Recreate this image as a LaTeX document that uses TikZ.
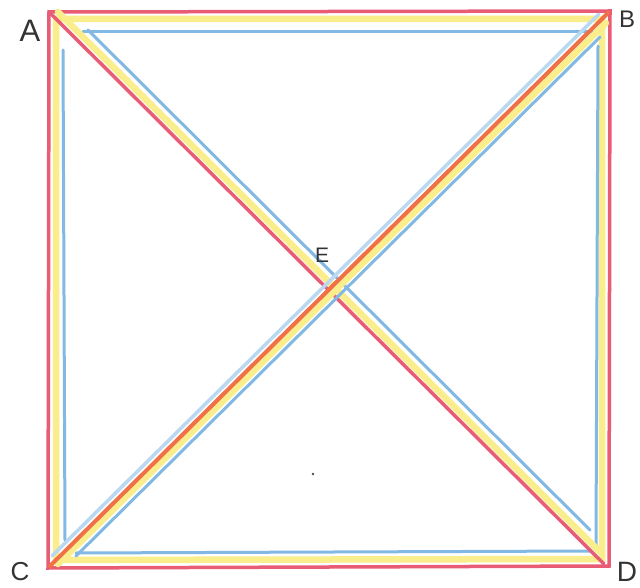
\documentclass[tikz,border=0pt]{standalone}
\usepackage{fontspec}
\setmainfont{Liberation Sans}
\usepackage{xcolor}
\usetikzlibrary{positioning,calc}
\definecolor{pencilred}{RGB}{232,92,118}
\definecolor{pencilyel}{RGB}{250,238,140}
\definecolor{pencilblue}{RGB}{130,185,228}
\definecolor{pencilorg}{RGB}{240,112,72}
\tikzset{
  redline/.style    = {draw=pencilred, line width=3.5pt, line cap=round},
  yelline/.style    = {draw=pencilyel, line width=6.5pt, line cap=round},
  blueline/.style   = {draw=pencilblue, line width=3pt, line cap=round},
  faintblue/.style  = {draw=pencilblue!55, line width=3.5pt, line cap=round},
  orgline/.style    = {draw=pencilorg, line width=4pt, line cap=round},
  ptlbl/.style      = {font=\fontsize{31}{31}\selectfont, text=black!80, inner sep=0pt},
}
\begin{document}
\begin{tikzpicture}[x=1pt,y=-1pt]
  \useasboundingbox[fill=white] (0,0) rectangle (640,588);

  % corner points
  \coordinate (A) at (49,12);
  \coordinate (B) at (608,13);
  \coordinate (C) at (50,566);
  \coordinate (D) at (604,564);
  \coordinate (E) at (328,293);

  % ---------- square, outside in ----------
  \draw[yelline] (56,19) -- (602,19) -- (602,559) -- (56,560) -- cycle;
  \draw[redline] (A) -- (610,11) -- (609,566) -- (48,568) -- cycle;
  \draw[blueline] (83,32) -- (592,32);
  \draw[blueline] (598,46) -- (596,545);
  \draw[blueline] (76,553) -- (590,551);
  \draw[blueline] (63,50) -- (65,540);

  % ---------- diagonal A--D ----------
  \draw[blueline] ($(A)+(39,18)$) -- ($(D)+(-14,-34)$);
  \draw[yelline] ($(A)+(9,0)$) -- ($(D)+(-4,-12)$);
  \draw[redline] (A) -- (D);

  % ---------- diagonal C--B ----------
  \draw[faintblue] ($(C)+(2,-10)$) -- ($(B)+(-9,1)$);
  \draw[yelline] ($(C)+(8,-2)$) -- ($(B)+(-2,10)$);
  \draw[blueline] ($(C)+(26,-10)$) -- ($(B)+(-8,24)$);
  \draw[orgline] (C) -- (B);

  % labels
  \node[ptlbl] (lblA) at (30,31) {A};
  \node[ptlbl, font=\fontsize{24}{24}\selectfont] (lblB) at (627,19) {B};
  \node[ptlbl, font=\fontsize{26}{26}\selectfont] (lblC) at (20,572) {C};
  \node[ptlbl, font=\fontsize{28}{28}\selectfont] (lblD) at (627,572) {D};
  \node[ptlbl, font=\fontsize{21}{21}\selectfont] (lblE) at (322,255) {E};

  % stray pencil dot
  \fill[black!70] (313,474) circle (1.3pt);
\end{tikzpicture}
\end{document}
